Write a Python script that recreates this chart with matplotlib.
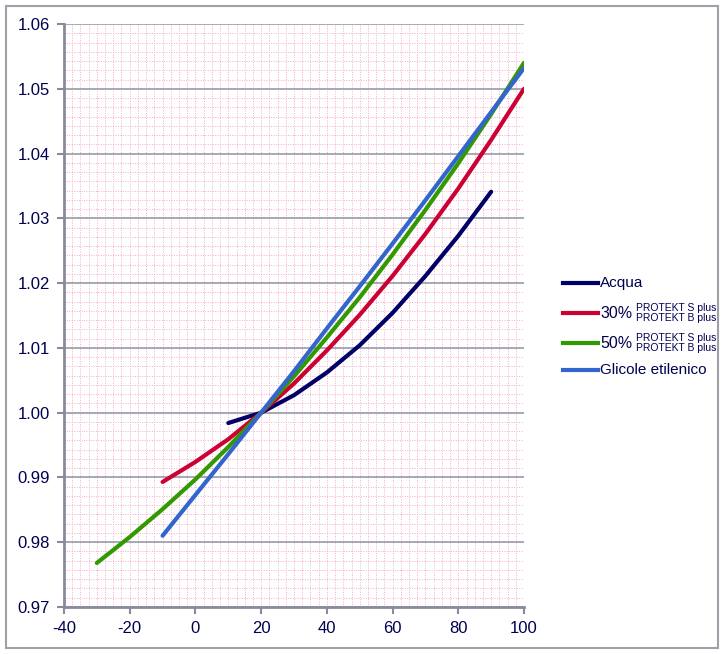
import matplotlib
matplotlib.use("Agg")
import matplotlib.pyplot as plt
from matplotlib.ticker import MultipleLocator, AutoMinorLocator
from matplotlib.lines import Line2D
from matplotlib.patches import Rectangle

plt.rcParams["font.family"] = ["Liberation Sans", "DejaVu Sans"]
plt.rcParams["axes.unicode_minus"] = False

# temperature (°C) and relative volume (V/V20)
t_acqua = [10, 20, 30, 40, 50, 60, 70, 80, 90]
v_acqua = [0.9984, 1.0, 1.0027, 1.0062, 1.0104, 1.0154, 1.0211, 1.0273, 1.0341]

t_30 = [-10, 0, 10, 20, 30, 40, 50, 60, 70, 80, 90, 100]
v_30 = [0.9893, 0.9924, 0.9959, 1.0, 1.0045, 1.0096, 1.0151, 1.0211, 1.0276, 1.0346, 1.0421, 1.0500]

t_50 = [-30, -20, -10, 0, 10, 20, 30, 40, 50, 60, 70, 80, 90, 100]
v_50 = [0.9768, 0.9808, 0.9851, 0.9897, 0.9947, 1.0, 1.0056, 1.0116, 1.0178, 1.0244, 1.0313, 1.0385, 1.0461, 1.0540]

t_glic = [-10, 0, 10, 20, 30, 40, 50, 60, 70, 80, 90, 100]
v_glic = [0.9810, 0.9873, 0.9936, 1.0, 1.0064, 1.0130, 1.0195, 1.0261, 1.0328, 1.0396, 1.0464, 1.0532]

series = [
    (t_acqua, v_acqua, "#000066", "Acqua", False),
    (t_30, v_30, "#CC0033", "30%", True),
    (t_50, v_50, "#339900", "50%", True),
    (t_glic, v_glic, "#3366CC", "Glicole etilenico", False),
]

txt_col = "#000050"
axis_col = "#8A8A9A"

fig = plt.figure(figsize=(7.24, 6.54), dpi=100)
ax = fig.add_axes([64 / 724, 1 - 607 / 654, 460 / 724, 583 / 654])

for t, v, c, lab, sub in series:
    ax.plot(t, v, color=c, lw=3, solid_capstyle="round", solid_joinstyle="round", zorder=3)

ax.set_xlim(-40, 100)
ax.set_ylim(0.97, 1.06)
ax.xaxis.set_major_locator(MultipleLocator(20))
ax.yaxis.set_major_locator(MultipleLocator(0.01))
ax.xaxis.set_minor_locator(AutoMinorLocator(8))
ax.yaxis.set_minor_locator(AutoMinorLocator(7))
ax.yaxis.set_major_formatter(lambda v, p: f"{v:.2f}")

ax.grid(which="minor", color="#F4AECB", lw=0.7, ls=(0, (1, 1.5)))
ax.grid(which="major", axis="x", color="#F4AECB", lw=0.7, ls=(0, (1, 1.5)))
ax.grid(which="major", axis="y", color="#9A98A8", lw=1.2)
ax.set_axisbelow(True)

for s in ["top", "right"]:
    ax.spines[s].set_visible(False)
for s in ["left", "bottom"]:
    ax.spines[s].set_color(axis_col)
    ax.spines[s].set_linewidth(2)

ax.tick_params(which="major", direction="out", length=5, width=1.5, color=axis_col,
               labelsize=12, labelcolor=txt_col, pad=5)
ax.tick_params(which="minor", length=0)

# legend drawn by hand to the right of the plot
leg_y = [283, 313, 343, 370]
for (t, v, c, lab, sub), y in zip(series, leg_y):
    fy = 1 - y / 654
    fig.add_artist(Line2D([563 / 724, 598 / 724], [fy, fy], color=c, lw=3))
    fig.text(600 / 724, fy, lab, color=txt_col, fontsize=11.5 if sub else 11,
             va="center", ha="left")
    if sub:
        fig.text(636 / 724, fy + 5 / 654, "PROTEKT S plus", color=txt_col, fontsize=7.5,
                 va="center", ha="left")
        fig.text(636 / 724, fy - 5 / 654, "PROTEKT B plus", color=txt_col, fontsize=7.5,
                 va="center", ha="left")

fig.add_artist(Rectangle((6 / 724, 6 / 654), 712 / 724, 642 / 654, fill=False,
                         edgecolor="#A0A0A8", lw=1.5, transform=fig.transFigure))

fig.savefig("out.png", dpi=100)
